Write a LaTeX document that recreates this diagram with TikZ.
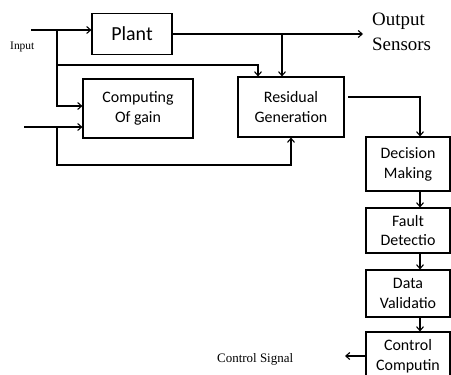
\documentclass[tikz,border=0pt]{standalone}
\usepackage{fontspec}
\setmainfont{Carlito}
\newfontfamily\rmserif{Liberation Serif}
\usetikzlibrary{arrows.meta}

\begin{document}
\begin{tikzpicture}[x=1bp,y=-1bp,
  every node/.style={inner sep=0pt},
  blk/.style={draw, line width=1.1bp, align=center, font=\fontsize{16}{20}\selectfont},
  wire/.style={line width=1.1bp},
  arr/.style={wire,-{Straight Barb[length=4bp,width=7bp]}},
  lbl/.style={anchor=base west, font=\rmserif}]
\useasboundingbox (0,0) rectangle (451,374);
\clip (0,0) rectangle (451,374);
% blocks
\node[blk, minimum width=80bp, minimum height=41bp, font=\fontsize{20}{24}\selectfont] (plant) at (132,34) {Plant};
\node[blk, minimum width=110bp, minimum height=59bp] (comp) at (138,108.5) {Computing\\Of gain};
\node[blk, minimum width=106bp, minimum height=60bp] (res) at (291,107) {Residual\\Generation};
\node[blk, minimum width=84bp, minimum height=54bp] (dec) at (408,164) {Decision\\Making};
\node[blk, minimum width=84bp, minimum height=45bp] (fault) at (408,230.5) {Fault\\Detectio};
\node[blk, minimum width=84bp, minimum height=47bp] (data) at (408,293.5) {Data\\Validatio};
\node[blk, minimum width=84bp, minimum height=48bp] (ctrl) at (408,356) {Control\\Computin};
% labels
\node[lbl, font=\rmserif\fontsize{11.5}{13}\selectfont] (inp) at (10,49) {Input};
\node[lbl, font=\rmserif\fontsize{19}{24}\selectfont] (outA) at (372,25) {Output};
\node[lbl, font=\rmserif\fontsize{19}{24}\selectfont] (outB) at (372,50) {Sensors};
\node[lbl, font=\rmserif\fontsize{13}{16}\selectfont] (sig) at (217,362) {Control Signal};
% points
\coordinate (in1) at (31,30);
\coordinate (j1) at (57,30);
\coordinate (j3) at (57,65);
\coordinate (c1) at (57,106);
\coordinate (in2) at (24,127);
\coordinate (j2) at (57,127);
\coordinate (j4) at (57,165);
\coordinate (p1) at (282,34);
\coordinate (out) at (363,34);
\coordinate (r1) at (348,97);
\coordinate (cs) at (345,356);
% connectors
\draw[arr] (in1) -- (plant.west |- in1);
\draw[arr] (j1) -- (c1) -- (comp.west |- c1);
\draw[arr] (j3) -| ([xshift=-33bp]res.north);
\draw[arr] (plant.east) -- (out);
\draw[arr] (p1) -- (p1 |- res.north);
\draw[arr] (in2) -- (comp.west |- in2);
\draw[arr] (j2) -- (j4) -| (res.south);
\draw[arr] (r1) -| ([xshift=12bp]dec.north);
\draw[arr] ([xshift=12bp]dec.south) -- ([xshift=12bp]fault.north);
\draw[arr] ([xshift=12bp]fault.south) -- ([xshift=12bp]data.north);
\draw[arr] ([xshift=12bp]data.south) -- ([xshift=12bp]ctrl.north);
\draw[arr] (ctrl.west) -- (cs);
\end{tikzpicture}
\end{document}
